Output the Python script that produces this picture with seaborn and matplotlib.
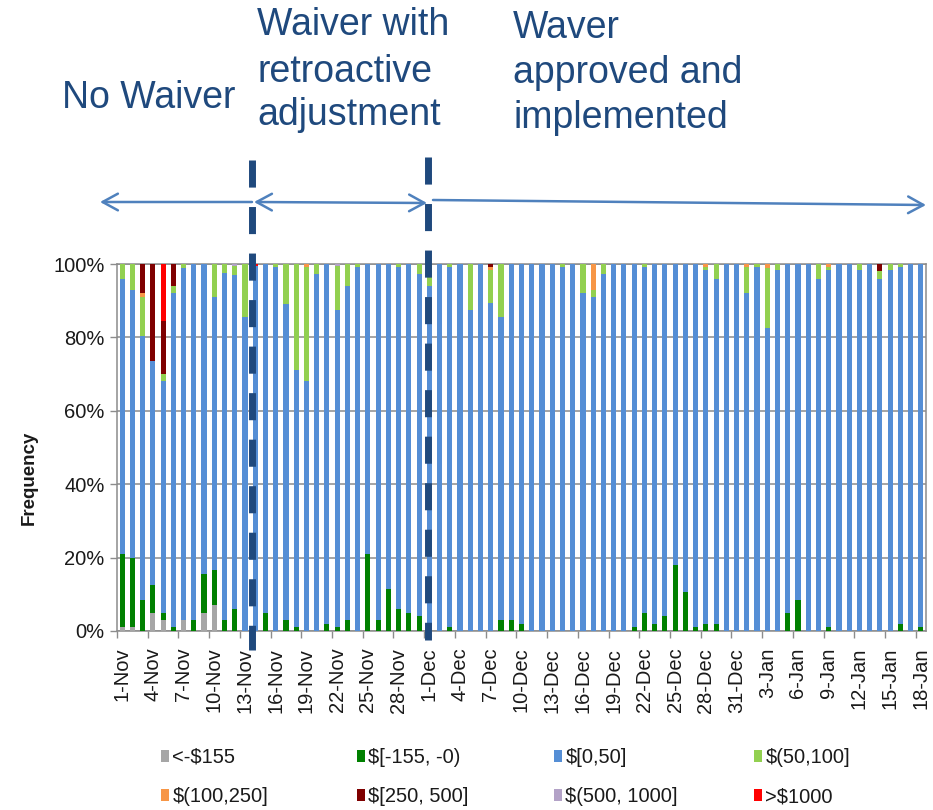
import matplotlib
matplotlib.use("Agg")
import numpy as np
import pandas as pd
import matplotlib.pyplot as plt
import matplotlib.transforms as mtransforms
from matplotlib.patches import Patch, FancyArrowPatch
from matplotlib.lines import Line2D
import seaborn as sns

# @title Data
days = pd.date_range("2012-11-01", "2013-01-18", freq="D")
day_labels = [f"{d.day}-{d.strftime('%b')}" for d in days]

bin_names = ["<-$155", "$[-155, -0)", "$[0,50]", "$(50,100]",
             "$(100,250]", "$[250, 500]", "$(500, 1000]", ">$1000"]
bin_colors = ["#A6A6A6", "#008000", "#558ED5", "#92D050",
              "#F79646", "#7F0000", "#B3A2C7", "#FF0000"]

# share of transactions (%) per day, bottom to top
below_155 = [1, 1, 0, 5, 3, 0, 3, 0, 5, 7,
             0, 0, 0, 0, 0, 0, 0, 0, 0, 0,
             0, 0, 0, 0, 0, 0, 0, 0, 0, 0,
             0, 0, 0, 0, 0, 0, 0, 0, 0, 0,
             0, 0, 0, 0, 0, 0, 0, 0, 0, 0,
             0, 0, 0, 0, 0, 0, 0, 0, 0, 0,
             0, 0, 0, 0, 0, 0, 0, 0, 0, 0,
             0, 0, 0, 0, 0, 0, 0, 0, 0]
neg_155_0 = [20, 19, 8.5, 7.5, 2, 1, 0, 3, 10.5, 9.5,
             3, 6, 0, 0, 5, 0, 3, 1, 0, 0,
             2, 1, 3, 0, 21, 3, 11.5, 6, 5, 4,
             0, 0, 1, 0, 0, 0, 0, 3, 3, 2,
             0, 0, 0, 0, 0, 0, 0, 0, 0, 0,
             1, 5, 2, 4, 18, 10.5, 1, 2, 2, 0,
             0, 0, 0, 0, 0, 5, 8.5, 0, 0, 1,
             0, 0, 0, 0, 0, 0, 2, 0, 1]
pos_0_50 = [75, 73, 72, 61, 63, 91, 96, 97, 84.5, 74.5,
            94.5, 91, 85.5, 99.5, 95, 99.3, 86, 70, 68, 97.3,
            98, 86.5, 91, 99.3, 79, 97, 88.5, 93.3, 95, 93.3,
            94, 100, 98.3, 100, 87.5, 100, 89.5, 82.5, 97, 98,
            100, 100, 100, 99.3, 100, 92, 91, 97.3, 100, 100,
            99, 94.3, 98, 96, 82, 89.5, 99, 96.5, 94, 100,
            100, 92, 99.3, 82.5, 98.3, 95, 91.5, 100, 96, 97.4,
            100, 100, 98.3, 100, 96, 98.3, 97.3, 100, 99]
pos_50_100 = [4, 7, 10.5, 0, 2, 2, 1, 0, 0, 9,
              2.5, 2.5, 14.5, 0, 0, 0.7, 11, 29, 31.3, 2.7,
              0, 12, 6, 0.7, 0, 0, 0, 0.7, 0, 2.7,
              6, 0, 0.7, 0, 12.5, 0, 9, 14.5, 0, 0,
              0, 0, 0, 0.7, 0, 8, 2, 2.7, 0, 0,
              0, 0.7, 0, 0, 0, 0, 0, 0.8, 4, 0,
              0, 7.3, 0.7, 16.5, 1.7, 0, 0, 0, 4, 0.9,
              0, 0, 1.7, 0, 2, 1.7, 0.7, 0, 0]
pos_100_250 = [0, 0, 1, 0, 0, 0, 0, 0, 0, 0,
               0, 0, 0, 0, 0, 0, 0, 0, 0.7, 0,
               0, 0, 0, 0, 0, 0, 0, 0, 0, 0,
               0, 0, 0, 0, 0, 0, 0.8, 0, 0, 0,
               0, 0, 0, 0, 0, 0, 7, 0, 0, 0,
               0, 0, 0, 0, 0, 0, 0, 0.7, 0, 0,
               0, 0.7, 0, 1, 0, 0, 0, 0, 0, 0.7,
               0, 0, 0, 0, 0, 0, 0, 0, 0]
pos_250_500 = [0, 0, 8, 26.5, 14.5, 6, 0, 0, 0, 0,
               0, 0, 0, 0, 0, 0, 0, 0, 0, 0,
               0, 0, 0, 0, 0, 0, 0, 0, 0, 0,
               0, 0, 0, 0, 0, 0, 0.7, 0, 0, 0,
               0, 0, 0, 0, 0, 0, 0, 0, 0, 0,
               0, 0, 0, 0, 0, 0, 0, 0, 0, 0,
               0, 0, 0, 0, 0, 0, 0, 0, 0, 0,
               0, 0, 0, 0, 2, 0, 0, 0, 0]
pos_500_1000 = [0, 0, 0, 0, 0, 0, 0, 0, 0, 0,
                0, 0.5, 0, 0, 0, 0, 0, 0, 0, 0,
                0, 0.5, 0, 0, 0, 0, 0, 0, 0, 0,
                0, 0, 0, 0, 0, 0, 0, 0, 0, 0,
                0, 0, 0, 0, 0, 0, 0, 0, 0, 0,
                0, 0, 0, 0, 0, 0, 0, 0, 0, 0,
                0, 0, 0, 0, 0, 0, 0, 0, 0, 0,
                0, 0, 0, 0, 0, 0, 0, 0, 0]
above_1000 = [0, 0, 0, 0, 15.5, 0, 0, 0, 0, 0,
              0, 0, 0, 0.5, 0, 0, 0, 0, 0, 0,
              0, 0, 0, 0, 0, 0, 0, 0, 0, 0,
              0, 0, 0, 0, 0, 0, 0, 0, 0, 0,
              0, 0, 0, 0, 0, 0, 0, 0, 0, 0,
              0, 0, 0, 0, 0, 0, 0, 0, 0, 0,
              0, 0, 0, 0, 0, 0, 0, 0, 0, 0,
              0, 0, 0, 0, 0, 0, 0, 0, 0]

series = [below_155, neg_155_0, pos_0_50, pos_50_100,
          pos_100_250, pos_250_500, pos_500_1000, above_1000]

period_labels = [["No Waiver"],
                 ["Waiver with", "retroactive", "adjustment"],
                 ["Waver", "approved and", "implemented"]]

n_days = len(days)
df = pd.DataFrame({
    "day": np.tile(np.arange(n_days), len(bin_names)),
    "bin": np.repeat(bin_names, n_days),
    "pct": np.concatenate([np.asarray(s, dtype=float) for s in series]),
})

# @title Style
sns.set_style("white")
plt.rcParams["font.family"] = ["Liberation Sans", "DejaVu Sans"]
text_navy = "#1F497D"
arrow_blue = "#4F81BD"
grid_gray = "#8C8C8C"

W, H = 933, 810
fig = plt.figure(figsize=(W / 100, H / 100), dpi=100)
ax = fig.add_axes([117 / W, 1 - 631 / H, 809 / W, 367 / H])


def px(x, y):
    return x / W, 1 - y / H


# stacked 100% bars (seaborn draws the first hue level on top)
sns.histplot(data=df, x="day", hue="bin", weights="pct", multiple="fill",
             discrete=True, shrink=0.5, hue_order=bin_names[::-1],
             palette=dict(zip(bin_names, bin_colors)), alpha=1, linewidth=0,
             legend=False, ax=ax, zorder=3)

ax.set_xlim(-0.5, n_days - 0.5)
ax.set_ylim(0, 1)
ax.set_yticks(np.arange(0, 1.01, 0.2))
ax.set_yticklabels([f"{int(round(v * 100))}%" for v in np.arange(0, 1.01, 0.2)])
ax.yaxis.grid(True, color=grid_gray, linewidth=1.1, zorder=0)
ax.set_axisbelow(True)

tick_pos = np.arange(0, n_days, 3)
ax.set_xticks(tick_pos)
ax.set_xticklabels([day_labels[i] for i in tick_pos], rotation=90)
ax.set_xticks(np.arange(-0.5, n_days, 3), minor=True)
ax.tick_params(axis="x", which="major", length=0, pad=12, labelsize=14.5, colors="#1a1a1a")
ax.tick_params(axis="x", which="minor", length=5, width=1, color=grid_gray, direction="out")
ax.tick_params(axis="y", which="major", length=5, width=1, color=grid_gray,
               direction="out", labelsize=14.5, labelcolor="#1a1a1a", pad=4)
ax.tick_params(bottom=True, left=True, which="both")

for side in ["left", "right", "top", "bottom"]:
    ax.spines[side].set_visible(True)
    ax.spines[side].set_color(grid_gray)
    ax.spines[side].set_linewidth(1.1)

ax.set_xlabel("")
ax.set_ylabel("Frequency", fontsize=13.5, fontweight="bold", color="#1a1a1a")
ax.yaxis.set_label_coords((38 - 117) / 809, (631 - 478) / 367)

# legend: four columns, two rows
handles = [Patch(facecolor=c, edgecolor="none") for c in bin_colors]
col_x = [161, 357, 554, 754]
for k, x0 in enumerate(col_x):
    leg = fig.legend([handles[k], handles[k + 4]], [bin_names[k], bin_names[k + 4]],
                     loc="upper left", bbox_to_anchor=px(x0, 748),
                     frameon=False, fontsize=14.5, handlelength=0.42, handleheight=0.55,
                     handletextpad=0.15, labelspacing=1.0, borderpad=0,
                     borderaxespad=0)
    for t in leg.get_texts():
        t.set_color("#1a1a1a")

# period annotations
blend = mtransforms.blended_transform_factory(ax.transData, fig.transFigure)
for xd, y_top, y_bot in [(12.7, 160, 650), (29.85, 157, 640)]:
    fig.add_artist(Line2D([xd, xd], [1 - y_top / H, 1 - y_bot / H], transform=blend,
                          color=text_navy, linewidth=5, dashes=(3.9, 2.8), zorder=10))

arrows = [((100, 202), (252, 202), "<-"),
          ((254, 202), (427, 203), "<->"),
          ((433, 200), (926, 205), "->")]
for a, b, style in arrows:
    fig.add_artist(FancyArrowPatch(px(*a), px(*b), transform=fig.transFigure,
                                   arrowstyle=f"{style},head_length=11,head_width=6",
                                   color=arrow_blue, linewidth=1.8,
                                   shrinkA=0, shrinkB=0, zorder=9))

label_pos = [(62, [108]), (257, [35, 82, 125]), (513, [38, 83, 128])]
for lines, (x0, baselines) in zip(period_labels, label_pos):
    for line, yb in zip(lines, baselines):
        fig.text(*px(x0, yb), line, fontsize=27, color=text_navy,
                 ha="left", va="baseline")

plt.savefig("out.png", dpi=100)
